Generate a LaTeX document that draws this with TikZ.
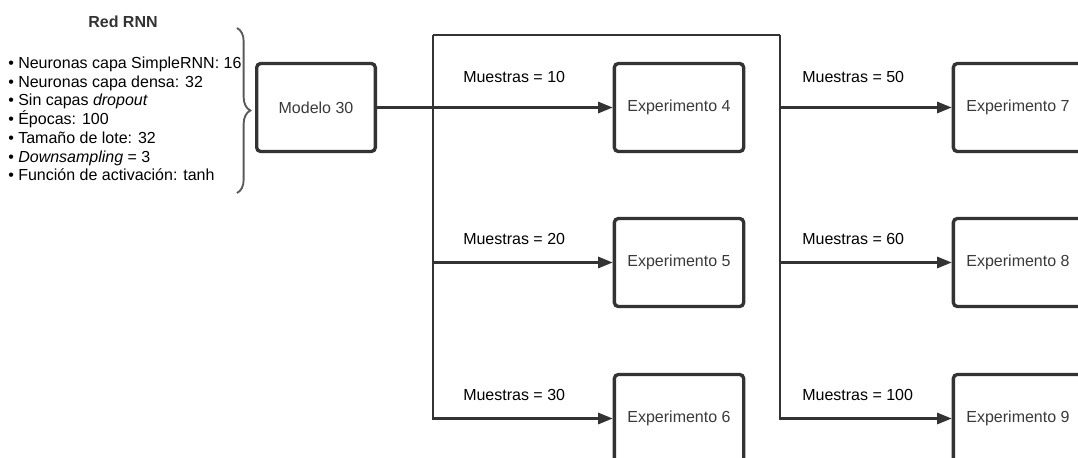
\documentclass[tikz,border=0pt]{standalone}
\usepackage{fontspec}
\setmainfont{Liberation Sans}
\usetikzlibrary{arrows.meta,decorations.pathreplacing}
\definecolor{ln}{HTML}{333333}
\definecolor{bx}{HTML}{3A3A3A}
\definecolor{br}{HTML}{5A5A5A}
\begin{document}
\begin{tikzpicture}[x=0.75pt,y=-0.75pt,
  every node/.style={font=\fontsize{12}{14}\selectfont},
  box/.style={draw=ln, line width=2.5pt, rounded corners=3pt, minimum width=97pt, minimum height=66pt, text=bx, fill=white, inner sep=0pt},
  conn/.style={draw=ln, line width=1.6pt},
  arr/.style={conn, -{Triangle[length=11pt,width=8.5pt]}},
  lab/.style={anchor=west, inner sep=0pt, text=black}]
\useasboundingbox (0,0) rectangle (1078,457);

% left description
\node[font=\fontsize{12}{14}\selectfont\bfseries, text=ln] (title) at (123,22) {Red RNN};
\node[anchor=north west, inner sep=0pt, align=left, text=black, font=\fontsize{12}{14.05}\selectfont] (list) at (8,56.5)
 {• Neuronas capa SimpleRNN: 16\\
  • Neuronas capa densa: 32\\
  • Sin capas \textit{dropout}\\
  • Épocas: 100\\
  • Tamaño de lote: 32\\
  • \textit{Downsampling} = 3\\
  • Función de activación: tanh};
\coordinate (bt) at (237,28);
\coordinate (bb) at (237,193);
\draw[draw=br, line width=1.4pt, decorate, decoration={brace, amplitude=10pt}] (bt) -- (bb);

% boxes
\node[box, minimum width=89pt] (m) at (316,107.5) {Modelo 30};
\node[box] (e4) at (679,107.5) {Experimento 4};
\node[box] (e5) at (679,262.5) {Experimento 5};
\node[box] (e6) at (679,418.5) {Experimento 6};
\node[box] (e7) at (1018,107.5) {Experimento 7};
\node[box] (e8) at (1018,262.5) {Experimento 8};
\node[box] (e9) at (1018,418.5) {Experimento 9};

% junctions
\coordinate (j1) at (433,35);
\coordinate (j2) at (780,35);

% connectors
\draw[arr] (m.east) -- (e4.west);
\draw[arr] (j1) -- (j1 |- e6.west) -- (e6.west);
\draw[arr] (j1 |- e5.west) -- (e5.west);
\draw[conn] (j1) -- (j2);
\draw[arr] (j2) -- (j2 |- e9.west) -- (e9.west);
\draw[arr] (j2 |- e7.west) -- (e7.west);
\draw[arr] (j2 |- e8.west) -- (e8.west);

% labels
\node[lab] (l10) at (463,77) {Muestras = 10};
\node[lab] (l20) at (463,239) {Muestras = 20};
\node[lab] (l30) at (463,395) {Muestras = 30};
\node[lab] (l50) at (802,77) {Muestras = 50};
\node[lab] (l60) at (802,239) {Muestras = 60};
\node[lab] (l100) at (802,395) {Muestras = 100};
\end{tikzpicture}
\end{document}
